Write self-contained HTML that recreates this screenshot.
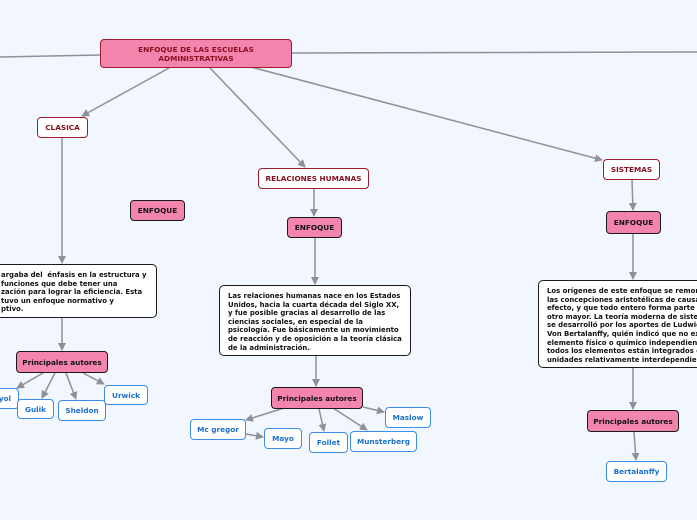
<!DOCTYPE html>
<html><head><meta charset="utf-8"><style>
html,body{margin:0;padding:0}
body{width:697px;height:520px;background:#f2f6fe;position:relative;overflow:hidden;font-family:"DejaVu Sans","Liberation Sans",sans-serif;font-weight:bold}
.b{position:absolute;box-sizing:border-box;display:flex;align-items:center;justify-content:center;text-align:center;border-radius:4px;font-size:7.3px;line-height:9px}
.pk{background:#f384ad;border:1px solid #1a1a1a;color:#111}
.main{background:#f384ad;border:1px solid #a01c2c;color:#8a1020;font-size:7.3px}
.w{background:#fff;border:1px solid #a01c2c;color:#8a1020}
.bl{background:#fff;border:1px solid #3a8ee6;color:#1a6fd0}
.t{position:absolute;box-sizing:border-box;background:#fff;border:1px solid #1a1a1a;border-radius:5px;font-size:6.9px;line-height:8.6px;color:#111;padding:5px 8px;white-space:nowrap;overflow:hidden}
svg{position:absolute;left:0;top:0}
</style></head><body>
<svg width="697" height="520">
<defs><marker id="a" markerWidth="8" markerHeight="8" refX="7" refY="4" orient="auto" markerUnits="userSpaceOnUse"><path d="M0,0 L8,4 L0,8 z" fill="#8f9196"/></marker></defs>
<g stroke="#8f9196" stroke-width="1.5" fill="none">
<line x1="100" y1="55" x2="0" y2="57"/>
<line x1="291" y1="53" x2="697" y2="52"/>
<line x1="169" y1="68" x2="82" y2="116" marker-end="url(#a)"/>
<line x1="210" y1="68" x2="305" y2="167" marker-end="url(#a)"/>
<line x1="251" y1="67" x2="602" y2="160" marker-end="url(#a)"/>
<line x1="62" y1="138" x2="62" y2="263" marker-end="url(#a)"/>
<line x1="62" y1="318" x2="62" y2="350" marker-end="url(#a)"/>
<line x1="43" y1="373" x2="17" y2="388" marker-end="url(#a)"/>
<line x1="55" y1="373" x2="42" y2="398" marker-end="url(#a)"/>
<line x1="66" y1="373" x2="76" y2="399" marker-end="url(#a)"/>
<line x1="83" y1="373" x2="104" y2="384" marker-end="url(#a)"/>
<line x1="314" y1="189" x2="314" y2="216" marker-end="url(#a)"/>
<line x1="315" y1="238" x2="315" y2="284" marker-end="url(#a)"/>
<line x1="316" y1="356" x2="316" y2="386" marker-end="url(#a)"/>
<line x1="284" y1="408" x2="246" y2="420" marker-end="url(#a)"/>
<line x1="246" y1="434" x2="263" y2="437" marker-end="url(#a)"/>
<line x1="319" y1="409" x2="324" y2="431" marker-end="url(#a)"/>
<line x1="333" y1="408" x2="367" y2="430" marker-end="url(#a)"/>
<line x1="363" y1="407" x2="384" y2="412" marker-end="url(#a)"/>
<line x1="632" y1="180" x2="633" y2="210" marker-end="url(#a)"/>
<line x1="633" y1="234" x2="633" y2="279" marker-end="url(#a)"/>
<line x1="633" y1="368" x2="633" y2="409" marker-end="url(#a)"/>
<line x1="634" y1="432" x2="636" y2="460" marker-end="url(#a)"/>
</g></svg>
<div class="b main" style="left:100px;top:39px;width:192px;height:29px">ENFOQUE DE LAS ESCUELAS<br>ADMINISTRATIVAS</div>
<div class="b w" style="left:37px;top:117px;width:51px;height:21px">CLASICA</div>
<div class="b pk" style="left:130px;top:200px;width:55px;height:21px">ENFOQUE</div>
<div class="b w" style="left:258px;top:168px;width:111px;height:21px">RELACIONES HUMANAS</div>
<div class="b pk" style="left:287px;top:217px;width:55px;height:21px">ENFOQUE</div>
<div class="b w" style="left:603px;top:159px;width:57px;height:21px">SISTEMAS</div>
<div class="b pk" style="left:606px;top:211px;width:55px;height:23px">ENFOQUE</div>
<div class="t" style="left:-12px;top:264px;width:169px;height:54px;padding:6px 0 0 12px">argaba del &nbsp;énfasis en la estructura y<br>funciones que debe tener una<br>zación para lograr la eficiencia. Esta<br>tuvo un enfoque normativo y<br>ptivo.</div>
<div class="t" style="left:219px;top:285px;width:192px;height:71px;padding:6px 8px 0 8px">Las relaciones humanas nace en los Estados<br>Unidos, hacia la cuarta década del Siglo XX,<br>y fue posible gracias al desarrollo de las<br>ciencias sociales, en especial de la<br>psicología. Fue básicamente un movimiento<br>de reacción y de oposición a la teoría clásica<br>de la administración.</div>
<div class="t" style="left:538px;top:280px;width:175px;height:88px;padding:6px 8px 0 8px">Los orígenes de este enfoque se remontan a<br>las concepciones aristotélicas de causa y<br>efecto, y que todo entero forma parte de<br>otro mayor. La teoría moderna de sistemas<br>se desarrolló por los aportes de Ludwig<br>Von Bertalanffy, quién indicó que no existe<br>elemento físico o químico independiente,<br>todos los elementos están integrados en<br>unidades relativamente interdependientes.</div>
<div class="b pk" style="left:16px;top:351px;width:92px;height:22px">Principales autores</div>
<div class="b pk" style="left:271px;top:387px;width:92px;height:22px">Principales autores</div>
<div class="b pk" style="left:587px;top:410px;width:92px;height:22px">Principales autores</div>
<div class="b bl" style="left:-16px;top:388px;width:35px;height:21px;justify-content:flex-end;padding-right:7px">Fayol</div>
<div class="b bl" style="left:17px;top:399px;width:37px;height:20px">Gulik</div>
<div class="b bl" style="left:58px;top:400px;width:48px;height:21px">Sheldon</div>
<div class="b bl" style="left:104px;top:385px;width:44px;height:20px">Urwick</div>
<div class="b bl" style="left:190px;top:419px;width:56px;height:21px">Mc gregor</div>
<div class="b bl" style="left:264px;top:428px;width:38px;height:21px">Mayo</div>
<div class="b bl" style="left:309px;top:432px;width:39px;height:21px">Follet</div>
<div class="b bl" style="left:350px;top:431px;width:67px;height:21px">Munsterberg</div>
<div class="b bl" style="left:385px;top:407px;width:46px;height:21px">Maslow</div>
<div class="b bl" style="left:606px;top:461px;width:61px;height:21px">Bertalanffy</div>
</body></html>
